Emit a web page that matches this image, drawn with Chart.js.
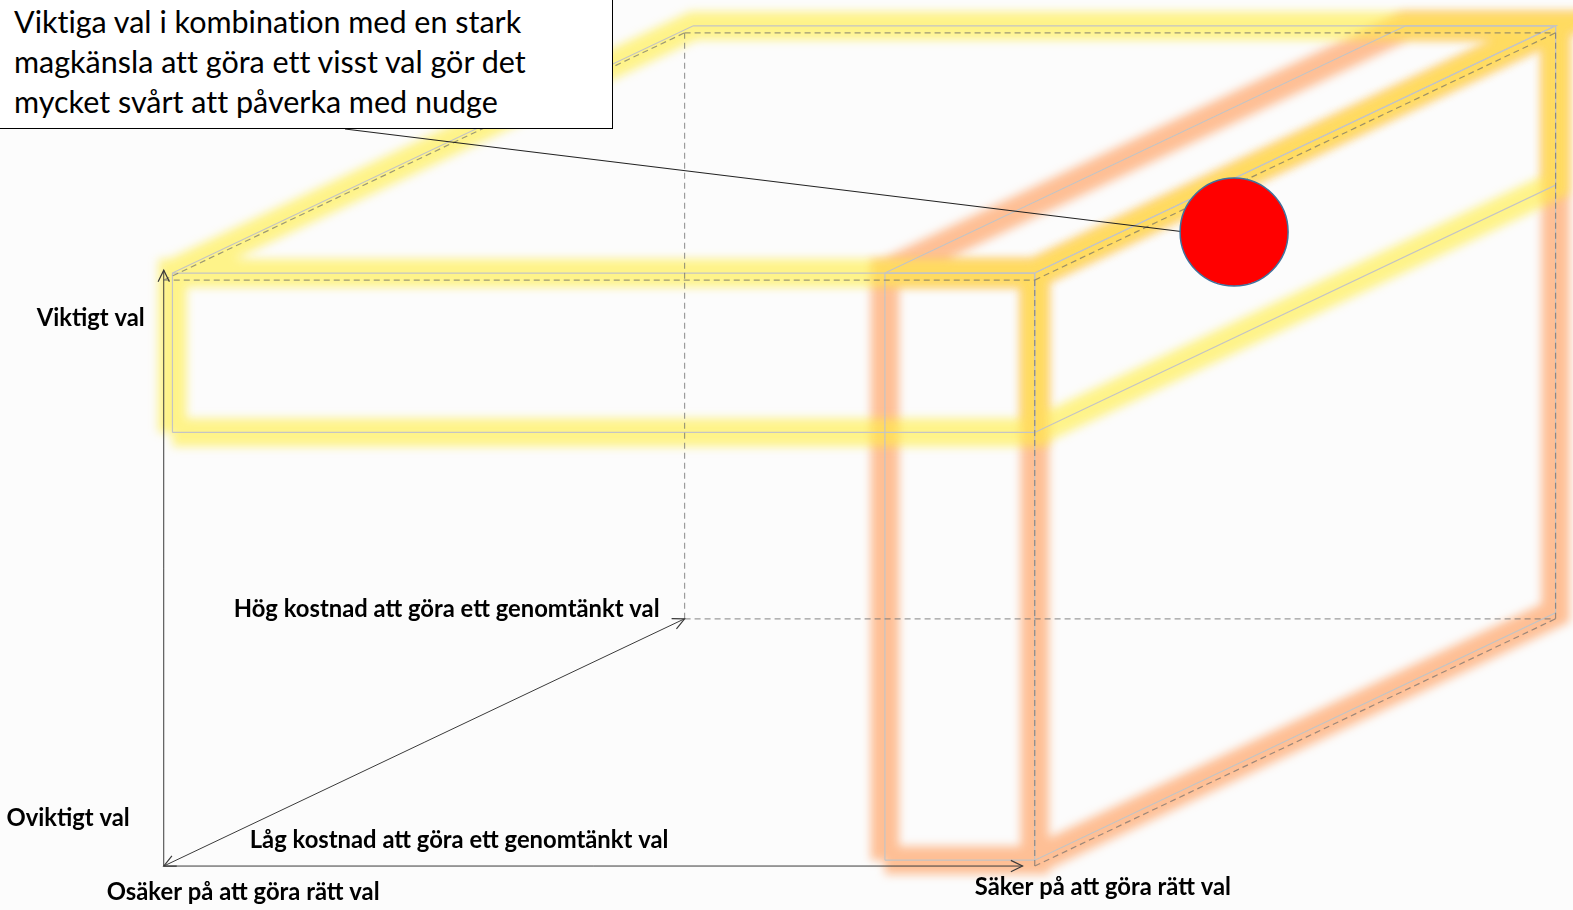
<!DOCTYPE html>
<html>
<head>
<meta charset="utf-8">
<script src="https://cdn.jsdelivr.net/npm/chart.js@4.4.1/dist/chart.umd.min.js"></script>
<style>
    html, body { margin: 0; padding: 0; background: #fcfcfc; overflow: hidden; }
    #wrap { position: relative; width: 1573px; height: 910px; }
    #callout {
        position: absolute; left: -2px; top: -2px; width: 615px; height: 131px;
        box-sizing: border-box; padding: 2px 0 0 15px;
        border: 1.5px solid #000; background: #fff;
        font-family: Lato, "Open Sans", sans-serif; font-size: 30.5px; line-height: 40px; color: #000;
        font-variant-ligatures: none;
    }
</style>
</head>
<body>
<div id="wrap">
    <canvas id="cube" width="1573" height="910"></canvas>
    <div id="callout">Viktiga val i kombination med en stark<br>magkänsla att göra ett visst val gör det<br>mycket svårt att påverka med nudge</div>
</div>
<script>
// cube axes: x = certainty (osäker -> säker), d = cost (låg -> hög), v = importance (oviktigt -> viktigt)
const cubeX = [0, 1];
const cubeD = [0, 1];
const cubeV = [0, 1];

// "viktigt val" slab (yellow) and "säker" slab (orange)
const importantSlabX = [0.01, 1.0];
const importantSlabV = [0.74, 1.012];
const certainSlabX = [0.828, 1.0];
const certainSlabV = [0.01, 1.012];

// arrow lengths along each axis
const axisEnd = { certainty: 0.986, cost: 1.0, importance: 1.017 };

// the red dot: x, d, v
const nudgePoint = [0.9, 0.55, 0.85];

const axisLabels = [
    "Viktigt val",
    "Oviktigt val",
    "Osäker på att göra rätt val",
    "Säker på att göra rätt val",
    "Låg kostnad att göra ett genomtänkt val",
    "Hög kostnad att göra ett genomtänkt val"
];

// layout only: where each label sits relative to a cube corner (pixels)
const labelLayout = [
    { corner: [0, 0, 1], dx: -19, dy: 38, align: "right" },
    { corner: [0, 0, 0], dx: -34, dy: -48, align: "right" },
    { corner: [0, 0, 0], dx: -57, dy: 26, align: "left" },
    { corner: [1, 0, 0], dx: -60, dy: 21, align: "left" },
    { corner: [0, 0, 0], dx: 86, dy: -26, align: "left" },
    { corner: [0, 1, 0], dx: -25, dy: -9, align: "right" }
];
const calloutTail = { x: 345, y: 129 };

// oblique projection of the depth axis
const DEPTH = { x: 0.598, y: 0.422 };

function proj(x, d, v) {
    return { x: x + d * DEPTH.x, y: v + d * DEPTH.y };
}

const GAP = { x: null, y: null };

function boxPoint(X, D, V, c) {
    return proj(X[c[0]], D[c[1]], V[c[2]]);
}

// visible edges of a box as polylines, split with gaps
const boxPaths = [
    [[0, 0, 0], [1, 0, 0], [1, 0, 1], [0, 0, 1], [0, 0, 0]],
    [[0, 0, 1], [0, 1, 1], [1, 1, 1], [1, 0, 1]],
    [[1, 1, 1], [1, 1, 0], [1, 0, 0]]
];

function boxOutline(X, D, V) {
    let pts = [];
    boxPaths.forEach((path, i) => {
        if (i > 0) pts.push(GAP);
        path.forEach(c => pts.push(boxPoint(X, D, V, c)));
    });
    return pts;
}

const dashedEdges = [
    [[0, 0, 1], [1, 0, 1]], [[1, 0, 1], [1, 0, 0]], [[0, 0, 1], [0, 1, 1]],
    [[0, 1, 1], [1, 1, 1]], [[1, 0, 1], [1, 1, 1]], [[1, 1, 1], [1, 1, 0]],
    [[0, 1, 0], [1, 1, 0]], [[0, 1, 1], [0, 1, 0]], [[1, 0, 0], [1, 1, 0]]
];

function cubeDashed() {
    let pts = [];
    dashedEdges.forEach((e, i) => {
        if (i > 0) pts.push(GAP);
        pts.push(boxPoint(cubeX, cubeD, cubeV, e[0]));
        pts.push(boxPoint(cubeX, cubeD, cubeV, e[1]));
    });
    return pts;
}

function lineSet(data, color, width, extra) {
    return Object.assign({
        type: "scatter",
        data: data,
        showLine: true,
        borderColor: color,
        borderWidth: width,
        pointRadius: 0,
        pointHoverRadius: 0,
        fill: false
    }, extra || {});
}

const origin = proj(0, 0, 0);

const datasets = [
    {
        id: "nudge",
        type: "scatter",
        data: [proj(nudgePoint[0], nudgePoint[1], nudgePoint[2])],
        pointRadius: 54,
        pointHoverRadius: 54,
        backgroundColor: "#ff0000",
        borderColor: "#41719c",
        borderWidth: 1.5,
        order: 0
    },
    lineSet([origin, proj(0, 0, axisEnd.importance)], "#3a3a3a", 1, { arrowHeads: ["end"], order: 1 }),
    lineSet([origin, proj(axisEnd.certainty, 0, 0)], "#3a3a3a", 1, { arrowHeads: ["end"], order: 1 }),
    lineSet([origin, proj(0, axisEnd.cost, 0)], "#3a3a3a", 1, { arrowHeads: ["start", "end"], order: 1 }),
    lineSet(cubeDashed(), "rgba(105,105,105,0.65)", 1.2, { borderDash: [6, 4], order: 2 }),
    lineSet(boxOutline(importantSlabX, cubeD, importantSlabV), "#c4c4c4", 1.2, { order: 3 }),
    lineSet(boxOutline(certainSlabX, cubeD, certainSlabV), "#c4c4c4", 1.2, { order: 3 }),
    lineSet(boxOutline(importantSlabX, cubeD, importantSlabV), "rgba(255,236,60,0.6)", 28, { glow: 5, order: 4, borderJoinStyle: "miter" }),
    lineSet(boxOutline(certainSlabX, cubeD, certainSlabV), "rgba(255,150,80,0.6)", 28, { glow: 5, order: 5, borderJoinStyle: "miter" })
];

const cubePlugin = {
    id: "cubePlugin",
    beforeDatasetDraw(chart, args) {
        const ds = chart.data.datasets[args.index];
        const ctx = chart.ctx;
        if (ds.glow) {
            ctx.save();
            ctx.filter = "blur(" + ds.glow + "px)";
        }
        if (ds.id === "nudge") {
            // leader line from the callout box to the dot
            const p = args.meta.data[0];
            ctx.save();
            ctx.strokeStyle = "#222";
            ctx.lineWidth = 1.2;
            ctx.beginPath();
            ctx.moveTo(calloutTail.x, calloutTail.y);
            ctx.lineTo(p.x, p.y + 6);
            ctx.stroke();
            ctx.restore();
        }
    },
    afterDatasetDraw(chart, args) {
        const ds = chart.data.datasets[args.index];
        if (ds.glow) chart.ctx.restore();
    },
    afterDatasetsDraw(chart) {
        const ctx = chart.ctx;
        chart.data.datasets.forEach((ds, i) => {
            if (!ds.arrowHeads) return;
            const pts = chart.getDatasetMeta(i).data;
            ds.arrowHeads.forEach(end => {
                const tip = end === "end" ? pts[pts.length - 1] : pts[0];
                const from = end === "end" ? pts[pts.length - 2] : pts[1];
                const ang = Math.atan2(tip.y - from.y, tip.x - from.x);
                const len = 13;
                ctx.save();
                ctx.strokeStyle = ds.borderColor;
                ctx.lineWidth = 1.2;
                ctx.beginPath();
                ctx.moveTo(tip.x - len * Math.cos(ang - 0.45), tip.y - len * Math.sin(ang - 0.45));
                ctx.lineTo(tip.x, tip.y);
                ctx.lineTo(tip.x - len * Math.cos(ang + 0.45), tip.y - len * Math.sin(ang + 0.45));
                ctx.stroke();
                ctx.restore();
            });
        });
    },
    afterDraw(chart) {
        const ctx = chart.ctx;
        const xs = chart.scales.x, ys = chart.scales.y;
        ctx.save();
        ctx.fillStyle = "#000";
        ctx.font = "bold 23.8px Lato, 'Open Sans', sans-serif";
        ctx.textBaseline = "middle";
        axisLabels.forEach((text, i) => {
            const l = labelLayout[i];
            const c = boxPoint(cubeX, cubeD, cubeV, l.corner);
            ctx.textAlign = l.align;
            ctx.fillText(text, xs.getPixelForValue(c.x) + l.dx, ys.getPixelForValue(c.y) + l.dy);
        });
        ctx.restore();
    }
};

new Chart(document.getElementById("cube"), {
    type: "scatter",
    data: { datasets: datasets },
    options: {
        responsive: false,
        animation: false,
        events: [],
        layout: { padding: 0, autoPadding: false },
        plugins: { legend: { display: false }, tooltip: { enabled: false } },
        scales: {
            x: { type: "linear", display: false, min: -0.188, max: 1.618 },
            y: { type: "linear", display: false, min: -0.075, max: 1.478 }
        }
    },
    plugins: [cubePlugin]
});
</script>
</body>
</html>
